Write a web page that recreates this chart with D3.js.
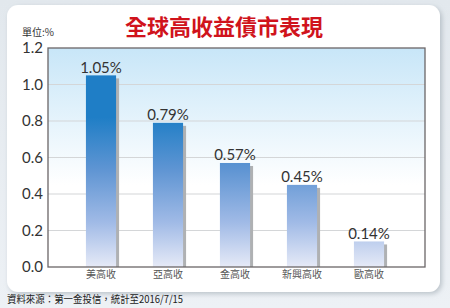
<!DOCTYPE html>
<html><head><meta charset="utf-8">
<script src="https://cdn.jsdelivr.net/npm/d3@7"></script>
<style>html,body{margin:0;padding:0;background:#e4eaef;}svg{display:block;}</style>
</head><body>
<script>
const categories = ["美高收","亞高收","金高收","新興高收","歐高收"];
const values = [1.05, 0.79, 0.57, 0.45, 0.14];
const valueLabels = ["1.05%","0.79%","0.57%","0.45%","0.14%"];
const yTicks = [0, 0.2, 0.4, 0.6, 0.8, 1.0, 1.2];
const title = "全球高收益債市表現";
const unitText = "單位:%";
const sourceText = "資料來源：第一金投信，統計至2016/7/15";

const W = 450, H = 308;
const svg = d3.select("body").append("svg").attr("width", W).attr("height", H);
const defs = svg.append("defs");

const bg = defs.append("linearGradient").attr("id","pagebg").attr("x1",0).attr("y1",0).attr("x2",0).attr("y2",1);
bg.append("stop").attr("offset","0%").attr("stop-color","#e2e8ed");
bg.append("stop").attr("offset","100%").attr("stop-color","#edf1f5");
svg.append("rect").attr("width",W).attr("height",H).attr("fill","url(#pagebg)");

const f = defs.append("filter").attr("id","cardShadow").attr("x","-10%").attr("y","-10%").attr("width","120%").attr("height","120%");
f.append("feDropShadow").attr("dx",2).attr("dy",2).attr("stdDeviation",2.5).attr("flood-color","#9aa4ad").attr("flood-opacity",0.6);
svg.append("rect").attr("x",7).attr("y",5).attr("width",433).attr("height",287).attr("rx",11)
  .attr("fill","#ffffff").attr("filter","url(#cardShadow)");

const plot = {left:48, top:48, right:425, bottom:267};
const y = d3.scaleLinear().domain([0,1.2]).range([plot.bottom, plot.top]);
const x = d3.scaleBand().domain(categories).range([67.5, 402.5]).paddingInner(0.55).paddingOuter(0.275);

const pg = defs.append("linearGradient").attr("id","plotbg").attr("gradientUnits","userSpaceOnUse")
  .attr("x1",0).attr("y1",plot.top).attr("x2",0).attr("y2",y(0.45));
pg.append("stop").attr("offset","0%").attr("stop-color","#c8e6f8");
pg.append("stop").attr("offset","100%").attr("stop-color","#ffffff");
svg.append("rect").attr("x",plot.left).attr("y",plot.top).attr("width",plot.right-plot.left).attr("height",plot.bottom-plot.top)
  .attr("fill","url(#plotbg)");

svg.append("g").selectAll("line").data(yTicks.filter(d=>d>0 && d<1.2)).join("line")
  .attr("x1",plot.left).attr("x2",plot.right).attr("y1",d=>y(d)).attr("y2",d=>y(d))
  .attr("stroke","#d4d6d8").attr("stroke-width",1.2);

const bgGrad = defs.append("linearGradient").attr("id","barGrad").attr("gradientUnits","userSpaceOnUse")
  .attr("x1",0).attr("y1",y(0.82)).attr("x2",0).attr("y2",y(0));
bgGrad.append("stop").attr("offset","0%").attr("stop-color","#1f7ec6");
bgGrad.append("stop").attr("offset","35%").attr("stop-color","#5f95d3");
bgGrad.append("stop").attr("offset","70%").attr("stop-color","#a0bae6");
bgGrad.append("stop").attr("offset","100%").attr("stop-color","#e6eaf7");

const bars = svg.append("g");
bars.selectAll("rect.sh").data(values).join("rect").attr("class","sh")
  .attr("x",(d,i)=>x(categories[i])+3).attr("y",d=>y(d)+3)
  .attr("width",x.bandwidth()).attr("height",d=>y(0)-y(d)-3)
  .attr("fill","#afb1b3");
bars.selectAll("rect.bar").data(values).join("rect").attr("class","bar")
  .attr("x",(d,i)=>x(categories[i])).attr("y",d=>y(d))
  .attr("width",x.bandwidth()).attr("height",d=>y(0)-y(d))
  .attr("fill","url(#barGrad)");

svg.append("rect").attr("x",plot.left).attr("y",plot.top).attr("width",plot.right-plot.left).attr("height",plot.bottom-plot.top)
  .attr("fill","none").attr("stroke","#6b6667").attr("stroke-width",1.3);

const numFont = "Lato, 'DejaVu Sans', sans-serif";
svg.append("g").selectAll("text").data(values).join("text")
  .attr("x",(d,i)=>x(categories[i])+x.bandwidth()/2).attr("y",d=>y(d)-2.5)
  .attr("text-anchor","middle").attr("font-family",numFont)
  .attr("font-size",15).attr("fill","#333").text((d,i)=>valueLabels[i]);

const yAxis = d3.axisLeft(y).tickValues(yTicks).tickFormat(d3.format(".1f")).tickSize(0).tickPadding(5);
const ya = svg.append("g").attr("transform",`translate(${plot.left},0)`).call(yAxis);
ya.select(".domain").remove();
ya.selectAll("text").attr("font-family",numFont).attr("font-size",15).attr("fill","#333");

const xAxis = d3.axisBottom(x).tickSize(0).tickPadding(4);
const xa = svg.append("g").attr("transform",`translate(0,${plot.bottom})`).call(xAxis);
xa.select(".domain").remove();
xa.selectAll("text").attr("font-family","'Noto Sans CJK TC', sans-serif").attr("font-size",10).attr("fill","#555");

svg.append("text").attr("x",224).attr("y",35).attr("text-anchor","middle")
  .attr("font-family","'Noto Sans CJK TC', sans-serif").attr("font-weight","bold").attr("font-size",22)
  .attr("fill","#d0131c").text(title);

svg.append("text").attr("x",22).attr("y",36).attr("font-family","'Noto Sans CJK TC', sans-serif")
  .attr("font-size",10).attr("fill","#333").text(unitText);

svg.append("text").attr("transform","translate(7,303) scale(0.9,1)")
  .attr("font-family","'Noto Sans CJK TC', sans-serif")
  .attr("font-size",10.5).attr("fill","#222").text(sourceText);
</script>
</body></html>
